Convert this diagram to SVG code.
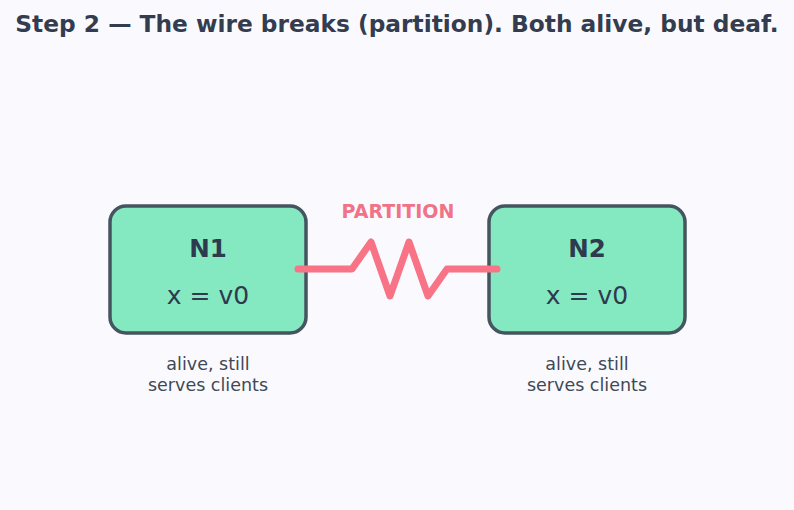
<svg xmlns="http://www.w3.org/2000/svg" width="794" height="510" viewBox="0 0 794 510">
<style>
text{font-family:"DejaVu Sans","Noto Sans",sans-serif;text-anchor:middle}
.title{font-size:23.3px;font-weight:bold;fill:#333d4f}
.box{fill:#84e9c1;stroke:#455560;stroke-width:3.5}
.name{font-size:24.5px;font-weight:bold;fill:#2e3a4e}
.val{font-size:25px;fill:#2e3a4e}
.note{font-size:17.5px;fill:#404855}
.wire{fill:none;stroke:#f87386;stroke-width:7;stroke-linecap:round;stroke-linejoin:round}
.plabel{font-size:19px;font-weight:bold;fill:#f07387}
</style>
<rect width="794" height="510" fill="#fafafe"/>
<text class="title" x="397" y="32">Step 2 — The wire breaks (partition). Both alive, but deaf.</text>
<g id="N1">
<rect class="box" x="110" y="206" width="196" height="127" rx="16"/>
<text class="name" x="208" y="257">N1</text>
<text class="val" x="208" y="304">x = v0</text>
<text class="note" x="208" y="370">alive, still</text>
<text class="note" x="208" y="391">serves clients</text>
</g>
<g id="N2">
<rect class="box" x="489" y="206" width="196" height="127" rx="16"/>
<text class="name" x="587" y="257">N2</text>
<text class="val" x="587" y="304">x = v0</text>
<text class="note" x="587" y="370">alive, still</text>
<text class="note" x="587" y="391">serves clients</text>
</g>
<g id="connectors">
<polyline class="wire" points="298,269 352,269 371,242 390,296 409,242 428,296 447,269 497,269"/>
<text class="plabel" x="398" y="218">PARTITION</text>
</g>
</svg>
